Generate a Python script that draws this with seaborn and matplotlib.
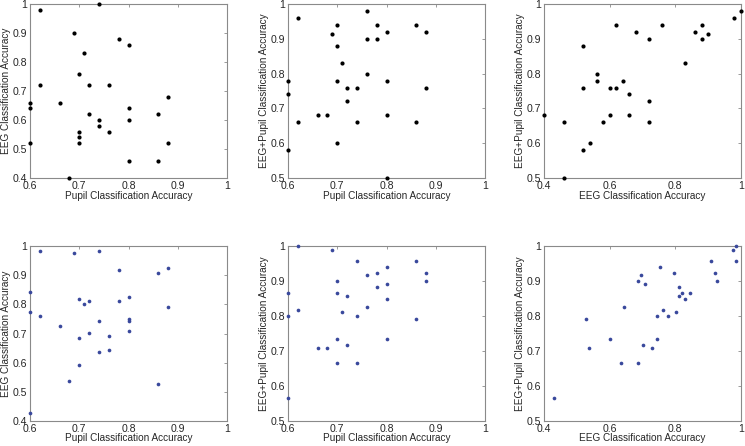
import pandas as pd
import matplotlib
matplotlib.use("Agg")
import matplotlib.pyplot as plt
import seaborn as sns

# top row: per-subject accuracies (black markers)
top_pupil_a = [0.62, 0.74, 0.69, 0.78, 0.80, 0.71, 0.70, 0.62, 0.72, 0.76, 0.88, 0.60, 0.66, 0.60, 0.80,
               0.72, 0.86, 0.74, 0.80, 0.74, 0.70, 0.76, 0.70, 0.70, 0.60, 0.88, 0.80, 0.86, 0.68]
top_eeg_a = [0.98, 1.00, 0.90, 0.88, 0.86, 0.83, 0.76, 0.72, 0.72, 0.72, 0.68, 0.66, 0.66, 0.64, 0.64,
             0.62, 0.62, 0.60, 0.60, 0.58, 0.56, 0.56, 0.54, 0.52, 0.52, 0.52, 0.46, 0.46, 0.40]

top_pupil_b = [0.62, 0.76, 0.70, 0.78, 0.86, 0.69, 0.76, 0.78, 0.80, 0.88, 0.70, 0.71, 0.76, 0.60, 0.70,
               0.80, 0.60, 0.72, 0.74, 0.88, 0.72, 0.66, 0.68, 0.80, 0.62, 0.74, 0.86, 0.70, 0.60, 0.80]
top_comb_b = [0.96, 0.98, 0.94, 0.94, 0.94, 0.914, 0.90, 0.90, 0.92, 0.92, 0.88, 0.83, 0.80, 0.78, 0.78,
              0.78, 0.74, 0.76, 0.76, 0.76, 0.72, 0.68, 0.68, 0.68, 0.66, 0.66, 0.66, 0.60, 0.58, 0.50]

top_eeg_c = [1.00, 0.98, 0.62, 0.76, 0.88, 0.68, 0.86, 0.90, 0.72, 0.88, 0.52, 0.83, 0.56, 0.56, 0.64,
             0.52, 0.60, 0.62, 0.66, 0.72, 0.40, 0.60, 0.66, 0.58, 0.46, 0.72, 0.54, 0.52, 0.46]
top_comb_c = [0.98, 0.96, 0.94, 0.94, 0.94, 0.92, 0.92, 0.914, 0.90, 0.90, 0.88, 0.83, 0.80, 0.78, 0.78,
              0.76, 0.76, 0.76, 0.74, 0.72, 0.68, 0.68, 0.68, 0.66, 0.66, 0.66, 0.60, 0.58, 0.50]

# bottom row (blue markers)
bot_pupil_a = [0.62, 0.69, 0.74, 0.78, 0.86, 0.88, 0.60, 0.80, 0.70, 0.72, 0.71, 0.78, 0.88, 0.60, 0.62,
               0.66, 0.74, 0.80, 0.80, 0.80, 0.72, 0.76, 0.70, 0.76, 0.74, 0.70, 0.68, 0.86, 0.60]
bot_eeg_a = [0.983, 0.975, 0.983, 0.918, 0.909, 0.926, 0.842, 0.826, 0.817, 0.810, 0.800, 0.810, 0.792,
             0.775, 0.759, 0.725, 0.742, 0.751, 0.744, 0.709, 0.701, 0.692, 0.684, 0.643, 0.635, 0.593,
             0.536, 0.528, 0.429]

bot_pupil_b = [0.62, 0.69, 0.74, 0.86, 0.80, 0.76, 0.78, 0.88, 0.70, 0.88, 0.80, 0.78, 0.60, 0.70, 0.72,
               0.80, 0.76, 0.62, 0.71, 0.60, 0.74, 0.86, 0.70, 0.80, 0.72, 0.66, 0.68, 0.70, 0.74, 0.60]
bot_comb_b = [1.000, 0.988, 0.958, 0.958, 0.941, 0.916, 0.924, 0.924, 0.900, 0.900, 0.891, 0.883, 0.866,
              0.866, 0.858, 0.850, 0.825, 0.816, 0.812, 0.800, 0.800, 0.791, 0.733, 0.733, 0.716, 0.708,
              0.708, 0.666, 0.666, 0.566]

bot_eeg_c = [0.985, 0.975, 0.985, 0.910, 0.753, 0.795, 0.920, 0.694, 0.686, 0.928, 0.708, 0.810, 0.810,
             0.820, 0.844, 0.828, 0.645, 0.761, 0.803, 0.745, 0.777, 0.528, 0.602, 0.745, 0.703, 0.537,
             0.728, 0.636, 0.686, 0.430]
bot_comb_c = [1.000, 0.988, 0.958, 0.958, 0.941, 0.924, 0.924, 0.916, 0.900, 0.900, 0.891, 0.883, 0.858,
              0.866, 0.866, 0.850, 0.825, 0.816, 0.812, 0.800, 0.800, 0.791, 0.733, 0.733, 0.716, 0.708,
              0.708, 0.666, 0.666, 0.566]

ticks_pupil = [0.6, 0.7, 0.8, 0.9, 1.0]
ticks_eeg_x = [0.4, 0.6, 0.8, 1.0]
ticks_eeg_y = [0.4, 0.5, 0.6, 0.7, 0.8, 0.9, 1.0]
ticks_comb = [0.5, 0.6, 0.7, 0.8, 0.9, 1.0]

LBL_PUPIL = "Pupil Classification Accuracy"
LBL_EEG = "EEG Classification Accuracy"
LBL_COMB = "EEG+Pupil Classification Accuracy"

sns.set_style("white")
plt.rcParams["font.family"] = ["Liberation Sans", "DejaVu Sans"]

W, H = 745, 446
fig = plt.figure(figsize=(W / 100, H / 100), dpi=100)


def fmt(v):
    return "1" if abs(v - 1) < 1e-9 else f"{v:g}"


def panel(rect_px, x, y, xticks, yticks, xlabel, ylabel, color, size, xlab_gap):
    l, t, r, b = rect_px
    ax = fig.add_axes([l / W, 1 - b / H, (r - l) / W, (b - t) / H])
    df = pd.DataFrame({"x": x, "y": y})
    sns.scatterplot(data=df, x="x", y="y", ax=ax, color=color, s=size,
                    linewidth=0, clip_on=False, zorder=5)
    ax.set_xlim(xticks[0], xticks[-1])
    ax.set_ylim(yticks[0], yticks[-1])
    ax.set_xticks(xticks)
    ax.set_yticks(yticks)
    ax.set_xticklabels([fmt(v) for v in xticks])
    ax.set_yticklabels([fmt(v) for v in yticks])
    ax.set_xlabel(xlabel, fontsize=7.2)
    ax.set_ylabel(ylabel, fontsize=7.2)
    ax.xaxis.set_label_coords(0.5, -xlab_gap / (b - t))
    ax.yaxis.set_label_coords(-19 / (r - l), 0.5)
    ax.tick_params(direction="in", length=2.5, width=0.6, color="#8a8a8a",
                   labelsize=7.6, pad=2, top=True, right=True)
    for sp in ax.spines.values():
        sp.set_color("#8a8a8a")
        sp.set_linewidth(0.8)
    return ax


black = "#000000"
blue = "#39489c"

panel((30, 4, 227, 178), top_pupil_a, top_eeg_a, ticks_pupil, ticks_eeg_y, LBL_PUPIL, LBL_EEG, black, 9, 13)
panel((288, 4, 485, 178), top_pupil_b, top_comb_b, ticks_pupil, ticks_comb, LBL_PUPIL, LBL_COMB, black, 9, 13)
panel((544, 4, 741, 178), top_eeg_c, top_comb_c, ticks_eeg_x, ticks_comb, LBL_EEG, LBL_COMB, black, 9, 13)

panel((30, 246, 227, 421), bot_pupil_a, bot_eeg_a, ticks_pupil, ticks_eeg_y, LBL_PUPIL, LBL_EEG, blue, 7, 12)
panel((288, 246, 485, 421), bot_pupil_b, bot_comb_b, ticks_pupil, ticks_comb, LBL_PUPIL, LBL_COMB, blue, 7, 12)
panel((544, 246, 741, 421), bot_eeg_c, bot_comb_c, ticks_eeg_x, ticks_comb, LBL_EEG, LBL_COMB, blue, 7, 12)

fig.savefig("out.png", dpi=100)
